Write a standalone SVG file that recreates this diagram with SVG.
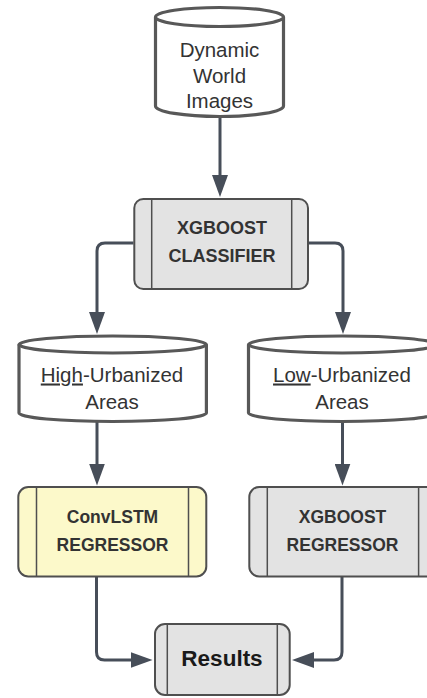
<svg xmlns="http://www.w3.org/2000/svg" width="427" height="698" viewBox="0 0 427 698">
<style>
.cyl{fill:#ffffff;stroke:#585858;stroke-width:3.2;}
.box{stroke:#4f4f4f;stroke-width:2;}
.gray{fill:#e3e3e3;}
.yellow{fill:#fcf9ca;}
.inner{stroke:#4f4f4f;stroke-width:1.5;fill:none;}
.conn{fill:none;stroke:#474e59;stroke-width:3;}
.t{font-family:"Liberation Sans",Arial,sans-serif;font-size:20.5px;fill:#333333;text-anchor:middle;}
.b{font-family:"Liberation Sans",Arial,sans-serif;font-weight:bold;font-size:18px;fill:#333333;text-anchor:middle;}
.r{font-family:"Liberation Sans",Arial,sans-serif;font-weight:bold;font-size:22.5px;fill:#1a1a1a;text-anchor:middle;}
</style>
<defs>
<marker id="ah" markerUnits="userSpaceOnUse" viewBox="0 0 22 16" refX="12" refY="8" markerWidth="22" markerHeight="16" orient="auto">
<path d="M0,0 L22,8 L0,16 Z" fill="#474e59"/>
</marker>
</defs>
<rect width="427" height="698" fill="#ffffff"/>

<g id="connectors">
<path class="conn" d="M220,118 V187" marker-end="url(#ah)"/>
<path class="conn" d="M133.5,243 H105 Q97,243 97,251 V324" marker-end="url(#ah)"/>
<path class="conn" d="M309,243 H335 Q343,243 343,251 V324" marker-end="url(#ah)"/>
<path class="conn" d="M97,422 V475.5" marker-end="url(#ah)"/>
<path class="conn" d="M342.5,422 V475.5" marker-end="url(#ah)"/>
<path class="conn" d="M96.5,577 V652 Q96.5,660 104.5,660 H142.5" marker-end="url(#ah)"/>
<path class="conn" d="M342,577 V652 Q342,660 334,660 H302" marker-end="url(#ah)"/>
</g>

<g id="dynamic-world-images">
<path class="cyl" d="M155.5,17 V106 A64,10.5 0 0 0 283.5,106 V17"/>
<ellipse class="cyl" cx="219.5" cy="17" rx="64" ry="9.5"/>
<text class="t" x="219.5" y="57.3">Dynamic</text>
<text class="t" x="219.5" y="82.5">World</text>
<text class="t" x="219.5" y="108">Images</text>
</g>

<g id="xgboost-classifier">
<rect class="box gray" x="134.3" y="199" width="173.7" height="90" rx="9"/>
<line class="inner" x1="151.7" y1="199" x2="151.7" y2="289"/>
<line class="inner" x1="291.7" y1="199" x2="291.7" y2="289"/>
<text class="b" x="222" y="234.3">XGBOOST</text>
<text class="b" x="222" y="261.7">CLASSIFIER</text>
</g>

<g id="high-urbanized-areas">
<path class="cyl" d="M19,344.5 V413 A93.7,8.5 0 0 0 206.4,413 V344.5"/>
<ellipse class="cyl" cx="112.7" cy="344.5" rx="93.7" ry="8.5"/>
<text class="t" x="112" y="381.5"><tspan text-decoration="underline">High</tspan>-Urbanized</text>
<text class="t" x="112" y="408.5">Areas</text>
</g>

<g id="low-urbanized-areas">
<path class="cyl" d="M248.5,344.5 V413 A93.7,8.5 0 0 0 435.9,413 V344.5"/>
<ellipse class="cyl" cx="342.2" cy="344.5" rx="93.7" ry="8.5"/>
<text class="t" x="342" y="381.5"><tspan text-decoration="underline">Low</tspan>-Urbanized</text>
<text class="t" x="342" y="408.5">Areas</text>
</g>

<g id="convlstm-regressor">
<rect class="box yellow" x="18.3" y="487" width="188" height="89.5" rx="10"/>
<line class="inner" x1="36.5" y1="487" x2="36.5" y2="576.5"/>
<line class="inner" x1="188.5" y1="487" x2="188.5" y2="576.5"/>
<text class="b" x="112.5" y="523" style="font-size:17.5px">ConvLSTM</text>
<text class="b" x="112.5" y="550.5" style="font-size:17.5px">REGRESSOR</text>
</g>

<g id="xgboost-regressor">
<rect class="box gray" x="249.3" y="487" width="188" height="89.5" rx="10"/>
<line class="inner" x1="267.3" y1="487" x2="267.3" y2="576.5"/>
<line class="inner" x1="418.6" y1="487" x2="418.6" y2="576.5"/>
<text class="b" x="342.5" y="523" style="font-size:17.5px">XGBOOST</text>
<text class="b" x="342.5" y="550.5" style="font-size:17.5px">REGRESSOR</text>
</g>

<g id="results">
<rect class="box gray" x="155" y="624" width="134.7" height="71" rx="10"/>
<line class="inner" x1="167.3" y1="624" x2="167.3" y2="695"/>
<line class="inner" x1="277.3" y1="624" x2="277.3" y2="695"/>
<text class="r" x="222" y="666">Results</text>
</g>
</svg>
